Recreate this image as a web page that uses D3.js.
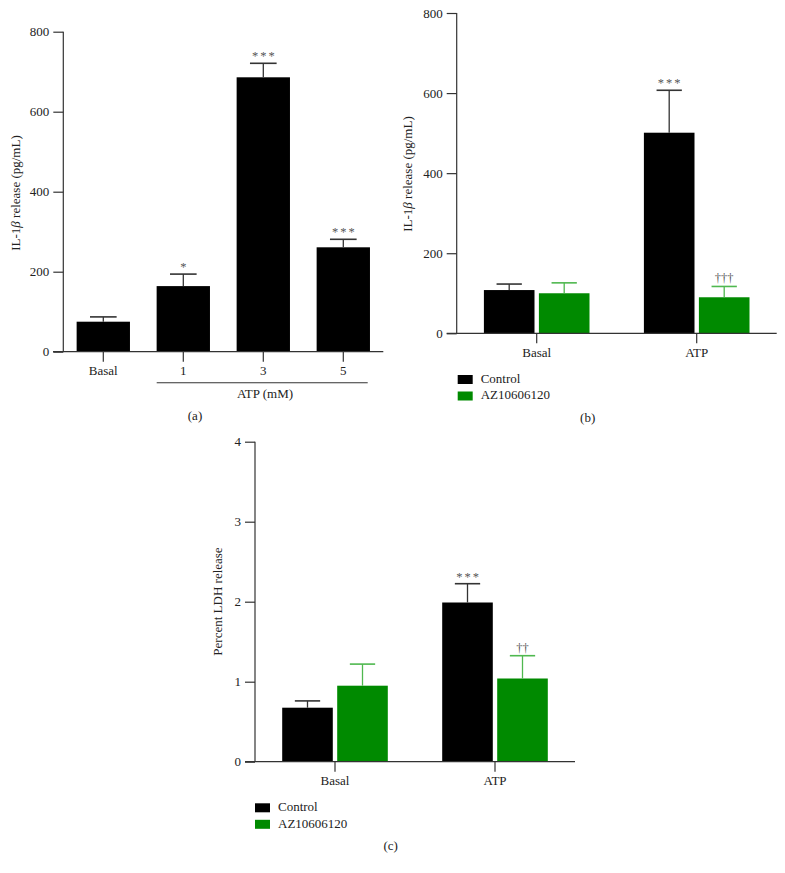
<!DOCTYPE html>
<html><head><meta charset="utf-8">
<script src="https://cdn.jsdelivr.net/npm/d3@7"></script>
<style>
body{margin:0;background:#fff;}
svg{display:block;font-family:"Liberation Serif","DejaVu Serif",serif;}
</style></head><body>
<svg id="c" width="785" height="873"></svg>
<script>
// Panel (a)
const aCats = ["Basal","1","3","5"];
const aMeans = [75, 164, 686, 261];
const aErr = [12, 30, 35, 20];
const aSig = ["", "*", "***", "***"];
// Panel (b)
const groups = ["Basal","ATP"];
const series = ["Control","AZ10606120"];
const bControl = [108, 501];
const bControlErr = [15, 106];
const bAZ = [100, 90];
const bAZErr = [26, 27];
const bSig = [["",""],["***","†††"]];
// Panel (c)
const cControl = [0.675, 1.99];
const cControlErr = [0.085, 0.235];
const cAZ = [0.95, 1.04];
const cAZErr = [0.27, 0.285];
const cSig = [["",""],["***","††"]];
const aTicks = [0,200,400,600,800];
const bTicks = [0,200,400,600,800];
const cTicks = [0,1,2,3,4];

const BLACK="#000", GREEN="#008a00", GREEN_ERR="#4fb84f", AX="#333";
const FS = 13;
const svg = d3.select("#c");

function yAxis(g, y, ticks, x0){
  const ax = g.append("g").attr("transform",`translate(${x0},0)`)
    .call(d3.axisLeft(y).tickValues(ticks).tickSize(10).tickPadding(4).tickFormat(d3.format("d")));
  ax.select(".domain").attr("d",`M0,${y(ticks[ticks.length-1])}V${y(0)}`).attr("stroke",AX).attr("stroke-width",1.2);
  ax.selectAll(".tick line").attr("stroke",AX).attr("stroke-width",1.2);
  ax.selectAll(".tick text").attr("font-size",FS).attr("fill","#222").attr("font-family","Liberation Serif, serif");
}
function xAxis(g, x, yPos, x1, x2, labelOffset){
  g.append("line").attr("x1",x1).attr("x2",x2).attr("y1",yPos).attr("y2",yPos).attr("stroke",AX).attr("stroke-width",1.2);
  x.domain().forEach(d=>{
    const cx = x(d)+x.bandwidth()/2;
    g.append("line").attr("x1",cx).attr("x2",cx).attr("y1",yPos).attr("y2",yPos+10).attr("stroke",AX).attr("stroke-width",1.2);
    g.append("text").attr("x",cx).attr("y",yPos+labelOffset).attr("text-anchor","middle").attr("dominant-baseline","middle")
      .attr("font-size",FS).attr("fill","#222").text(d);
  });
}
function errBar(g, cx, yTop, yErr, w, color){
  g.append("line").attr("x1",cx).attr("x2",cx).attr("y1",yTop).attr("y2",yErr).attr("stroke",color).attr("stroke-width",1.3);
  g.append("line").attr("x1",cx-w/2).attr("x2",cx+w/2).attr("y1",yErr).attr("y2",yErr).attr("stroke",color).attr("stroke-width",1.6);
}
function yLabel(g, cx, cy, parts){
  const t = g.append("text").attr("transform",`translate(${cx},${cy}) rotate(-90)`).attr("text-anchor","middle")
    .attr("dominant-baseline","middle").attr("font-size",FS).attr("fill","#222");
  parts.forEach(p=>t.append("tspan").attr("font-style",p[1]?"italic":"normal").text(p[0]));
}
function legend(g, x, y){
  series.forEach((s,i)=>{
    g.append("rect").attr("x",x).attr("y",y+i*16.5).attr("width",15).attr("height",9).attr("fill",i?GREEN:BLACK);
    g.append("text").attr("x",x+23).attr("y",y+i*16.5+5).attr("dominant-baseline","middle").attr("font-size",FS).attr("fill","#222").text(s);
  });
}
function sigText(g, cx, yy, s, spacing){
  g.append("text").attr("x",cx+spacing/2).attr("y",yy).attr("text-anchor","middle")
    .attr("font-size",12.5).attr("fill","#555").attr("letter-spacing",spacing).text(s);
}

// ---------- Panel (a)
{
  const g = svg.append("g");
  const y = d3.scaleLinear().domain([0,800]).range([351.7,31.7]);
  const x = d3.scaleBand().domain(aCats).range([63.3,383.3]).paddingInner(1/3).paddingOuter(1/6);
  g.selectAll("rect.bar").data(aCats).join("rect").attr("class","bar")
    .attr("x",d=>x(d)).attr("width",x.bandwidth())
    .attr("y",(d,i)=>y(aMeans[i])).attr("height",(d,i)=>y(0)-y(aMeans[i])).attr("fill",BLACK);
  aCats.forEach((d,i)=>{
    const cx = x(d)+x.bandwidth()/2;
    errBar(g,cx,y(aMeans[i]),y(aMeans[i]+aErr[i]),x.bandwidth()/2,AX);
    if(aSig[i]) sigText(g,cx,y(aMeans[i]+aErr[i])-3,aSig[i],2);
  });
  yAxis(g,y,aTicks,63.3);
  xAxis(g,x,351.7,53,383.3,20);
  g.append("line").attr("x1",156.7).attr("x2",367.7).attr("y1",382.7).attr("y2",382.7).attr("stroke",AX).attr("stroke-width",1.1);
  g.append("text").attr("x",265).attr("y",395.5).attr("text-anchor","middle").attr("dominant-baseline","middle").attr("font-size",FS).attr("fill","#222").text("ATP (mM)");
  g.append("text").attr("x",195).attr("y",417).attr("text-anchor","middle").attr("dominant-baseline","middle").attr("font-size",FS).attr("fill","#222").text("(a)");
  yLabel(g,17,193,[["IL-1",false],["β",true],[" release (pg/mL)",false]]);
}

function groupedPanel(cfg){
  const g = svg.append("g");
  const y = d3.scaleLinear().domain([0,cfg.max]).range([cfg.y0,cfg.y1]);
  const x0 = d3.scaleBand().domain(groups).range([cfg.xL,cfg.xR]).paddingInner(0.34).paddingOuter(0.17);
  const x1 = d3.scaleBand().domain(series).range([0,x0.bandwidth()]).paddingInner(0.08);
  const vals = [cfg.ctrl, cfg.az], errs=[cfg.ctrlErr, cfg.azErr];
  groups.forEach((gr,gi)=>{
    series.forEach((s,si)=>{
      const v = vals[si][gi], e = errs[si][gi];
      const bx = x0(gr)+x1(s);
      g.append("rect").attr("x",bx).attr("width",x1.bandwidth()).attr("y",y(v)).attr("height",y(0)-y(v)).attr("fill",si?GREEN:BLACK);
      const cx = bx+x1.bandwidth()/2;
      errBar(g,cx,y(v),y(v+e),x1.bandwidth()/2,si?GREEN_ERR:AX);
      const sig = cfg.sig[gi][si];
      if(sig) sigText(g,cx,y(v+e)-(si?4:3),sig,si?0:2);
    });
  });
  yAxis(g,y,cfg.ticks,cfg.xL);
  xAxis(g,x0,cfg.y0,cfg.xL-10,cfg.xR,20.5);
  legend(g,cfg.legX,cfg.legY);
  g.append("text").attr("x",cfg.capX).attr("y",cfg.capY).attr("text-anchor","middle").attr("dominant-baseline","middle").attr("font-size",FS).attr("fill","#222").text(cfg.cap);
  yLabel(g,cfg.labX,cfg.labY,cfg.label);
}

groupedPanel({max:800,y0:333.3,y1:13,xL:456.7,xR:776.7,ctrl:bControl,ctrlErr:bControlErr,az:bAZ,azErr:bAZErr,sig:bSig,
  ticks:bTicks,legX:457.7,legY:375,capX:587.7,capY:419.5,cap:"(b)",labX:408.5,labY:174,
  label:[["IL-1",false],["β",true],[" release (pg/mL)",false]]});

groupedPanel({max:4,y0:761.7,y1:441.7,xL:255,xR:575,ctrl:cControl,ctrlErr:cControlErr,az:cAZ,azErr:cAZErr,sig:cSig,
  ticks:cTicks,legX:255,legY:803.3,capX:390.7,capY:847,cap:"(c)",labX:218.5,labY:601.5,
  label:[["Percent LDH release",false]]});
</script>
</body></html>
